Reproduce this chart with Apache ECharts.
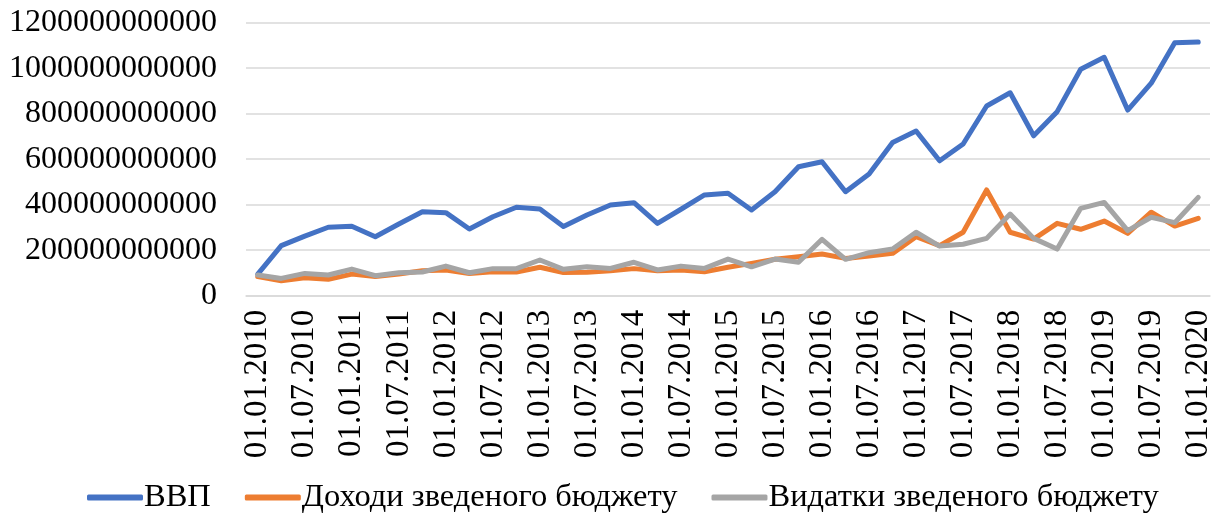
<!DOCTYPE html>
<html><head><meta charset="utf-8">
<script src="https://cdn.jsdelivr.net/npm/echarts@6/dist/echarts.min.js"></script>
<style>html,body{margin:0;padding:0;background:#fff}#c{width:1218px;height:519px}</style>
</head><body><div id="c"></div>
<script>
const categories = [
"01.01.2010","01.04.2010","01.07.2010","01.10.2010",
"01.01.2011","01.04.2011","01.07.2011","01.10.2011",
"01.01.2012","01.04.2012","01.07.2012","01.10.2012",
"01.01.2013","01.04.2013","01.07.2013","01.10.2013",
"01.01.2014","01.04.2014","01.07.2014","01.10.2014",
"01.01.2015","01.04.2015","01.07.2015","01.10.2015",
"01.01.2016","01.04.2016","01.07.2016","01.10.2016",
"01.01.2017","01.04.2017","01.07.2017","01.10.2017",
"01.01.2018","01.04.2018","01.07.2018","01.10.2018",
"01.01.2019","01.04.2019","01.07.2019","01.10.2019",
"01.01.2020"];
const seriesNames = ["ВВП","Доходи зведеного бюджету","Видатки зведеного бюджету"];
const gdp = [95e9,220e9,262e9,301e9,305e9,259e9,315e9,369e9,365e9,293e9,347e9,389e9,381e9,304e9,355e9,399e9,409e9,318e9,380e9,443e9,450e9,377e9,457e9,567e9,589e9,457e9,535e9,673e9,724e9,593e9,667e9,834e9,892e9,703e9,809e9,995e9,1048e9,816e9,934e9,1112e9,1115e9];
const revenue = [84e9,66e9,79e9,72e9,95e9,84e9,95e9,110e9,113e9,98e9,105e9,104e9,125e9,102e9,103e9,110e9,119e9,110e9,113e9,105e9,125e9,142e9,160e9,171e9,183e9,164e9,174e9,186e9,259e9,220e9,279e9,465e9,279e9,249e9,318e9,292e9,328e9,274e9,367e9,306e9,340e9];
const expenditure = [91e9,76e9,98e9,91e9,117e9,88e9,101e9,104e9,130e9,101e9,119e9,119e9,157e9,116e9,127e9,120e9,147e9,113e9,130e9,120e9,161e9,127e9,161e9,147e9,248e9,160e9,189e9,205e9,279e9,218e9,226e9,252e9,359e9,252e9,205e9,384e9,410e9,286e9,345e9,321e9,432e9];
const yTicks = {min:0, max:1200e9, interval:200e9};

const colors = ["#4472C4","#ED7D31","#A5A5A5"];
const font = "'Liberation Serif','Times New Roman',serif";
const chart = echarts.init(document.getElementById('c'), null, {renderer:'canvas'});
const mk = (name, data, i) => ({
  name, type:'line', data, symbol:'none', smooth:false,
  lineStyle:{width:5, color:colors[i], cap:'round', join:'round'},
  itemStyle:{color:colors[i]}, animation:false
});
chart.setOption({
  animation:false,
  textStyle:{fontFamily:font},
  grid:{left:246, right:8, top:22.7, bottom:223.3, containLabel:false},
  legend:{
    bottom:0, left:82, icon:'roundRect', itemWidth:56, itemHeight:6, itemGap:34,
    textStyle:{fontFamily:font, fontSize:32.5, color:'#000', padding:[0,0,0,-4]},
    data:seriesNames
  },
  xAxis:{
    type:'category', data:categories, boundaryGap:true,
    axisLine:{show:true, lineStyle:{color:'#d9d9d9', width:1.5}},
    axisTick:{show:false},
    axisLabel:{interval:1, rotate:90, fontFamily:font, fontSize:33, color:'#000', margin:14}
  },
  yAxis:{
    type:'value', min:yTicks.min, max:yTicks.max, interval:yTicks.interval,
    axisLine:{show:false}, axisTick:{show:false},
    splitLine:{lineStyle:{color:'#d9d9d9', width:1.5}},
    axisLabel:{fontFamily:font, fontSize:32, color:'#000', margin:29, formatter:v=>String(v)}
  },
  series:[mk(seriesNames[0],gdp,0), mk(seriesNames[1],revenue,1), mk(seriesNames[2],expenditure,2)]
});
</script></body></html>
